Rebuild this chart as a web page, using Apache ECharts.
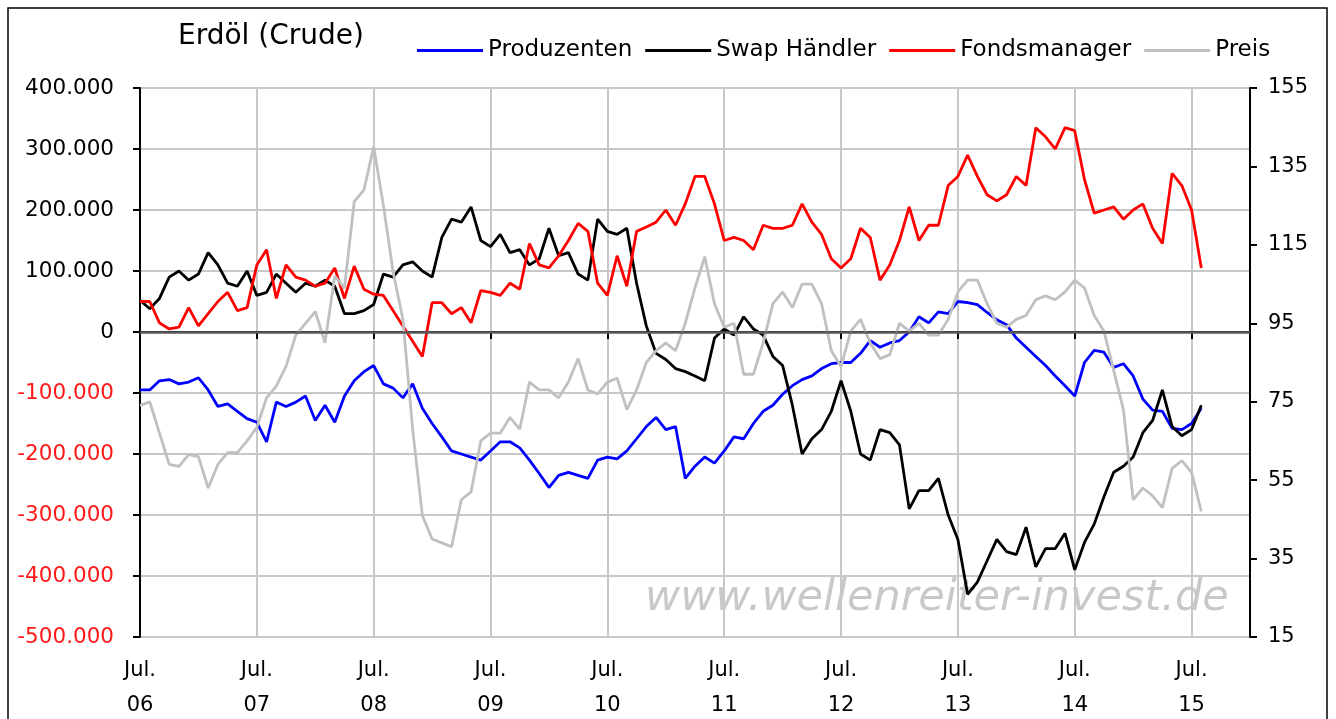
<!DOCTYPE html>
<html>
<head>
<meta charset="utf-8">
<script src="https://cdn.jsdelivr.net/npm/echarts@6/dist/echarts.min.js"></script>
<style>
  html, body { margin: 0; background: #fff; }
  #chart { width: 1336px; height: 719px; }
</style>
</head>
<body>
<div id="chart"></div>
<script>
// months since Jul. 2006 (one reading per month)
const months = [
  0, 1, 2, 3, 4, 5, 6, 7, 8, 9, 10, 11, 12, 13, 14, 15, 16, 17, 18, 19,
  20, 21, 22, 23, 24, 25, 26, 27, 28, 29, 30, 31, 32, 33, 34, 35, 36, 37, 38, 39,
  40, 41, 42, 43, 44, 45, 46, 47, 48, 49, 50, 51, 52, 53, 54, 55, 56, 57, 58, 59,
  60, 61, 62, 63, 64, 65, 66, 67, 68, 69, 70, 71, 72, 73, 74, 75, 76, 77, 78, 79,
  80, 81, 82, 83, 84, 85, 86, 87, 88, 89, 90, 91, 92, 93, 94, 95, 96, 97, 98, 99,
  100, 101, 102, 103, 104, 105, 106, 107, 108, 109
];

// net positions in thousand contracts
const produzenten = [
  -95, -95, -80, -78, -85, -82, -75, -95, -122, -118,
  -130, -142, -148, -180, -115, -122, -115, -105, -145, -120,
  -148, -105, -80, -65, -55, -85, -92, -108, -85, -125,
  -150, -172, -195, -200, -205, -210, -195, -180, -180, -190,
  -210, -232, -255, -235, -230, -235, -240, -210, -205, -208,
  -195, -175, -155, -140, -160, -155, -240, -220, -205, -215,
  -195, -172, -175, -150, -130, -120, -102, -88, -78, -72,
  -60, -52, -50, -50, -35, -14, -25, -18, -14, 0,
  25, 15, 33, 30, 50, 48, 45, 32, 20, 12,
  -10, -25, -40, -55, -72, -88, -105, -50, -30, -33,
  -58, -52, -72, -110, -128, -130, -158, -160, -150, -125
];

const swapHaendler = [
  52, 38, 55, 90, 100, 85, 95, 130, 110, 80,
  75, 100, 60, 65, 95, 80, 65, 80, 75, 85,
  75, 30, 30, 35, 45, 95, 90, 110, 115, 100,
  90, 155, 185, 180, 205, 150, 140, 160, 130, 135,
  110, 120, 170, 125, 130, 95, 85, 185, 165, 160,
  170, 80, 10, -35, -45, -60, -65, -72, -80, -10,
  5, -5, 25, 5, -5, -40, -55, -120, -200, -175,
  -160, -130, -80, -130, -200, -210, -160, -165, -185, -290,
  -260, -260, -240, -300, -340, -430, -410, -375, -340, -360,
  -365, -320, -385, -355, -355, -330, -390, -345, -315, -270,
  -230, -220, -205, -165, -145, -95, -155, -170, -160, -120
];

const fondsmanager = [
  50, 50, 15, 5, 8, 40, 10, 30, 50, 65,
  35, 40, 110, 135, 55, 110, 90, 85, 75, 80,
  105, 55, 108, 70, 62, 60, 35, 10, -15, -40,
  48, 48, 30, 40, 15, 68, 65, 60, 80, 70,
  145, 110, 105, 125, 150, 178, 165, 80, 60, 125,
  75, 165, 172, 180, 200, 175, 210, 255, 255, 210,
  150, 155, 150, 135, 175, 170, 170, 175, 210, 180,
  160, 120, 105, 120, 170, 155, 85, 110, 150, 205,
  150, 175, 175, 240, 255, 290, 255, 225, 215, 225,
  255, 240, 335, 320, 300, 335, 330, 250, 195, 200,
  205, 185, 200, 210, 170, 145, 260, 240, 200, 105
];

// crude oil price, right axis
const preis = [
  74, 75, 67, 59, 58.5, 61.5, 61, 53, 59, 62,
  62, 65, 68.5, 76, 79, 84, 92, 95, 98, 90,
  107, 104, 126, 129, 140, 125, 108, 96, 68, 46,
  40, 39, 38, 50, 52, 65, 67, 67, 71, 68,
  80, 78, 78, 76, 80, 86, 78, 77, 80, 81,
  73, 78, 85, 88, 90, 88, 95, 104, 112, 100,
  94, 95, 82, 82, 90, 100, 103, 99, 105, 105,
  100, 88, 84, 93, 96, 90, 86, 87, 95, 93,
  95, 92, 92, 96, 103, 106, 106, 100, 95, 94,
  96, 97, 101, 102, 101, 103, 106, 104, 97, 93,
  83, 73, 50, 53, 51, 48, 58, 60, 57, 47
];

const julyTicks = [0, 12, 24, 36, 48, 60, 72, 84, 96, 108];
const preisTicks = [15, 35, 55, 75, 95, 115, 135, 155];

const font = "DejaVu Sans";

function pairs(values) {
  return months.map((m, i) => [m, values[i]]);
}

function lineSeries(name, color, values, yAxisIndex) {
  return {
    name: name,
    type: "line",
    yAxisIndex: yAxisIndex,
    symbol: "none",
    animation: false,
    lineStyle: { color: color, width: 2.8 },
    itemStyle: { color: color },
    data: pairs(values)
  };
}

const chart = echarts.init(document.getElementById("chart"));

const blue = lineSeries("Produzenten", "#0000ff", produzenten, 0);
// Nulllinie
blue.markLine = {
  silent: true,
  symbol: "none",
  label: { show: false },
  lineStyle: { color: "#5a5a5a", width: 2.5, type: "solid" },
  data: [{ yAxis: 0 }]
};

chart.setOption({
  backgroundColor: "#fff",
  animation: false,
  textStyle: { fontFamily: font },
  grid: {
    left: 140,
    right: 86,
    top: 88,
    bottom: 82,
    containLabel: false,
    outerBoundsMode: "none",
    show: true,
    borderColor: "#000",
    borderWidth: 2,
    backgroundColor: "#fff"
  },
  legend: {
    left: 412,
    top: 34,
    icon: "rect",
    itemWidth: 66,
    itemHeight: 3,
    itemGap: 13,
    textStyle: { fontFamily: font, fontSize: 23, color: "#000" },
    data: ["Produzenten", "Swap Händler", "Fondsmanager", "Preis"]
  },
  graphic: [
    {
      type: "rect",
      silent: true,
      shape: { x: 8, y: 8, width: 1319, height: 720 },
      style: { fill: null, stroke: "#000", lineWidth: 1.5 }
    },
    {
      type: "text",
      left: 178,
      top: 23,
      silent: true,
      style: { text: "Erdöl (Crude)", fontFamily: font, fontSize: 28, fill: "#000" }
    },
    {
      type: "text",
      left: 645,
      top: 577,
      silent: true,
      z: 0,
      style: {
        text: "www.wellenreiter-invest.de",
        fontFamily: font,
        fontStyle: "italic",
        fontSize: 43,
        fill: "#c8c8c8"
      }
    }
  ],
  xAxis: {
    type: "value",
    min: 0,
    max: 114,
    interval: 12,
    axisLine: { show: true, lineStyle: { color: "#000", width: 2 } },
    axisTick: {
      show: true,
      length: 7,
      customValues: julyTicks,
      lineStyle: { color: "#000", width: 2 }
    },
    splitLine: { show: true, lineStyle: { color: "#c8c8c8", width: 2 } },
    axisLabel: {
      customValues: julyTicks,
      margin: 16,
      fontFamily: font,
      fontSize: 21,
      lineHeight: 35,
      color: "#000",
      formatter: v => "Jul.\n" + String(6 + v / 12).padStart(2, "0")
    }
  },
  yAxis: [
    {
      type: "value",
      min: -500,
      max: 400,
      interval: 100,
      axisLine: { show: true, lineStyle: { color: "#000", width: 2 } },
      axisTick: { show: true, length: 7, lineStyle: { color: "#000", width: 2 } },
      splitLine: { show: true, lineStyle: { color: "#c8c8c8", width: 2 } },
      axisLabel: {
        margin: 26,
        fontFamily: font,
        fontSize: 21.5,
        color: v => (v < 0 ? "#ff1a1a" : "#000"),
        formatter: v => (v === 0 ? "0" : v + ".000")
      }
    },
    {
      type: "value",
      min: 15,
      max: 155,
      position: "right",
      axisLine: { show: true, lineStyle: { color: "#000", width: 2 } },
      axisTick: {
        show: true,
        length: 7,
        customValues: preisTicks,
        lineStyle: { color: "#000", width: 2 }
      },
      splitLine: { show: false },
      axisLabel: {
        customValues: preisTicks,
        margin: 18,
        fontFamily: font,
        fontSize: 21,
        color: "#000"
      }
    }
  ],
  series: [
    blue,
    lineSeries("Swap Händler", "#000000", swapHaendler, 0),
    lineSeries("Fondsmanager", "#ff0000", fondsmanager, 0),
    lineSeries("Preis", "#c0c0c0", preis, 1)
  ]
});
</script>
</body>
</html>
